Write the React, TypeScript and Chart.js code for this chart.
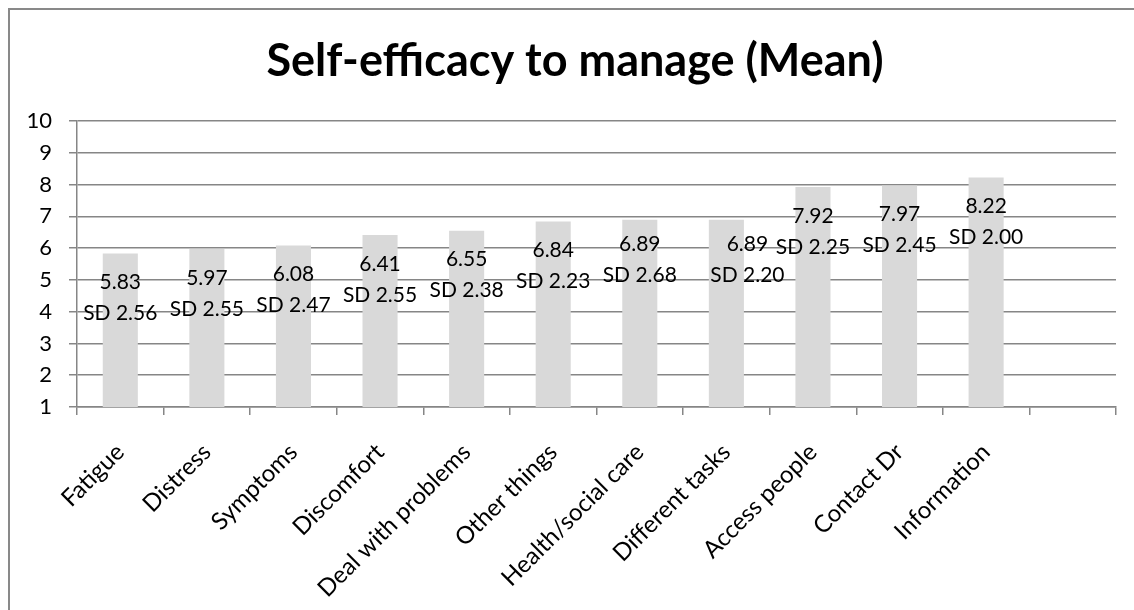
import React, { useEffect, useRef } from "react";
import { Chart, registerables } from "chart.js";

Chart.register(...registerables);

const categories = [
  "Fatigue",
  "Distress",
  "Symptoms",
  "Discomfort",
  "Deal with problems",
  "Other things",
  "Health/social care",
  "Different tasks",
  "Access people",
  "Contact Dr",
  "Information",
  "",
];
const meanValues = [5.83, 5.97, 6.08, 6.41, 6.55, 6.84, 6.89, 6.89, 7.92, 7.97, 8.22, null];
const sdValues = [2.56, 2.55, 2.47, 2.55, 2.38, 2.23, 2.68, 2.2, 2.25, 2.45, 2.0, null];
const yTicks = [1, 2, 3, 4, 5, 6, 7, 8, 9, 10];
const chartTitle = "Self-efficacy to manage (Mean)";

const FONT = "Lato, 'Open Sans', sans-serif";
const GRID = "#868686";

// small manual nudges of individual labels (as placed in the original)
const labelNudge: Record<number, { dx: number; dy: number }> = {
  6: { dx: 0, dy: -5 },
  7: { dx: 21, dy: -5 },
};

const valueLabels = {
  id: "valueLabels",
  afterDatasetsDraw(chart: any) {
    const ctx = chart.ctx;
    const meta = chart.getDatasetMeta(0);
    ctx.save();
    ctx.fillStyle = "#000";
    ctx.textAlign = "center";
    ctx.textBaseline = "middle";
    ctx.font = `21px ${FONT}`;
    meta.data.forEach((bar: any, i: number) => {
      const v = meanValues[i];
      const sd = sdValues[i];
      if (v == null || sd == null) return;
      const n = labelNudge[i] || { dx: 0, dy: 0 };
      const x = bar.x + n.dx;
      const top = bar.y + n.dy;
      ctx.fillText(v.toFixed(2), x, top + 29);
      ctx.fillText(`SD ${sd.toFixed(2)}`, x, top + 60);
    });
    ctx.restore();
  },
};

const titlePlugin = {
  id: "customTitle",
  afterDraw(chart: any) {
    const ctx = chart.ctx;
    ctx.save();
    ctx.fillStyle = "#000";
    ctx.textAlign = "center";
    ctx.textBaseline = "alphabetic";
    ctx.font = `bold 45px ${FONT}`;
    ctx.fillText(chartTitle, 565, 66);
    ctx.restore();
  },
};

export default function App() {
  const ref = useRef<HTMLCanvasElement | null>(null);

  useEffect(() => {
    if (!ref.current) return;
    const chart = new Chart(ref.current, {
      type: "bar",
      data: {
        labels: categories,
        datasets: [
          {
            data: meanValues as any,
            backgroundColor: "#D9D9D9",
            borderWidth: 0,
            categoryPercentage: 1,
            barPercentage: 0.405,
          },
        ],
      },
      options: {
        animation: false,
        responsive: false,
        maintainAspectRatio: false,
        layout: { padding: { left: 10, right: 10, top: 111, bottom: 0 } },
        plugins: {
          legend: { display: false },
          tooltip: { enabled: false },
          title: { display: false },
        },
        scales: {
          x: {
            afterFit: (s: any) => {
              s.height = 195;
            },
            grid: {
              display: true,
              drawOnChartArea: false,
              drawTicks: true,
              tickLength: 8,
              color: GRID,
              lineWidth: 1.5,
              offset: true,
            },
            border: { display: true, color: GRID, width: 1.5 },
            ticks: {
              color: "#000",
              font: { family: FONT, size: 24 },
              minRotation: 45,
              maxRotation: 45,
              autoSkip: false,
              padding: 23,
            },
          },
          y: {
            min: 1,
            max: 10,
            afterFit: (s: any) => {
              s.width = 57;
            },
            afterBuildTicks: (s: any) => {
              s.ticks = yTicks.map((v) => ({ value: v }));
            },
            grid: {
              color: GRID,
              lineWidth: 1.5,
              drawTicks: true,
              tickLength: 8,
            },
            border: { display: true, color: GRID, width: 1.5 },
            ticks: {
              color: "#000",
              font: { family: FONT, size: 22 },
              padding: 17,
              stepSize: 1,
            },
          },
        },
      },
      plugins: [valueLabels, titlePlugin],
    });
    return () => chart.destroy();
  }, []);

  return (
    <div
      style={{
        position: "fixed",
        left: 8,
        top: 8,
        width: 1126,
        height: 602,
        borderLeft: "2px solid #898989",
        borderTop: "2px solid #898989",
        boxSizing: "border-box",
        background: "#fff",
      }}
    >
      <canvas ref={ref} width={1116} height={592} style={{ display: "block" }} />
    </div>
  );
}
